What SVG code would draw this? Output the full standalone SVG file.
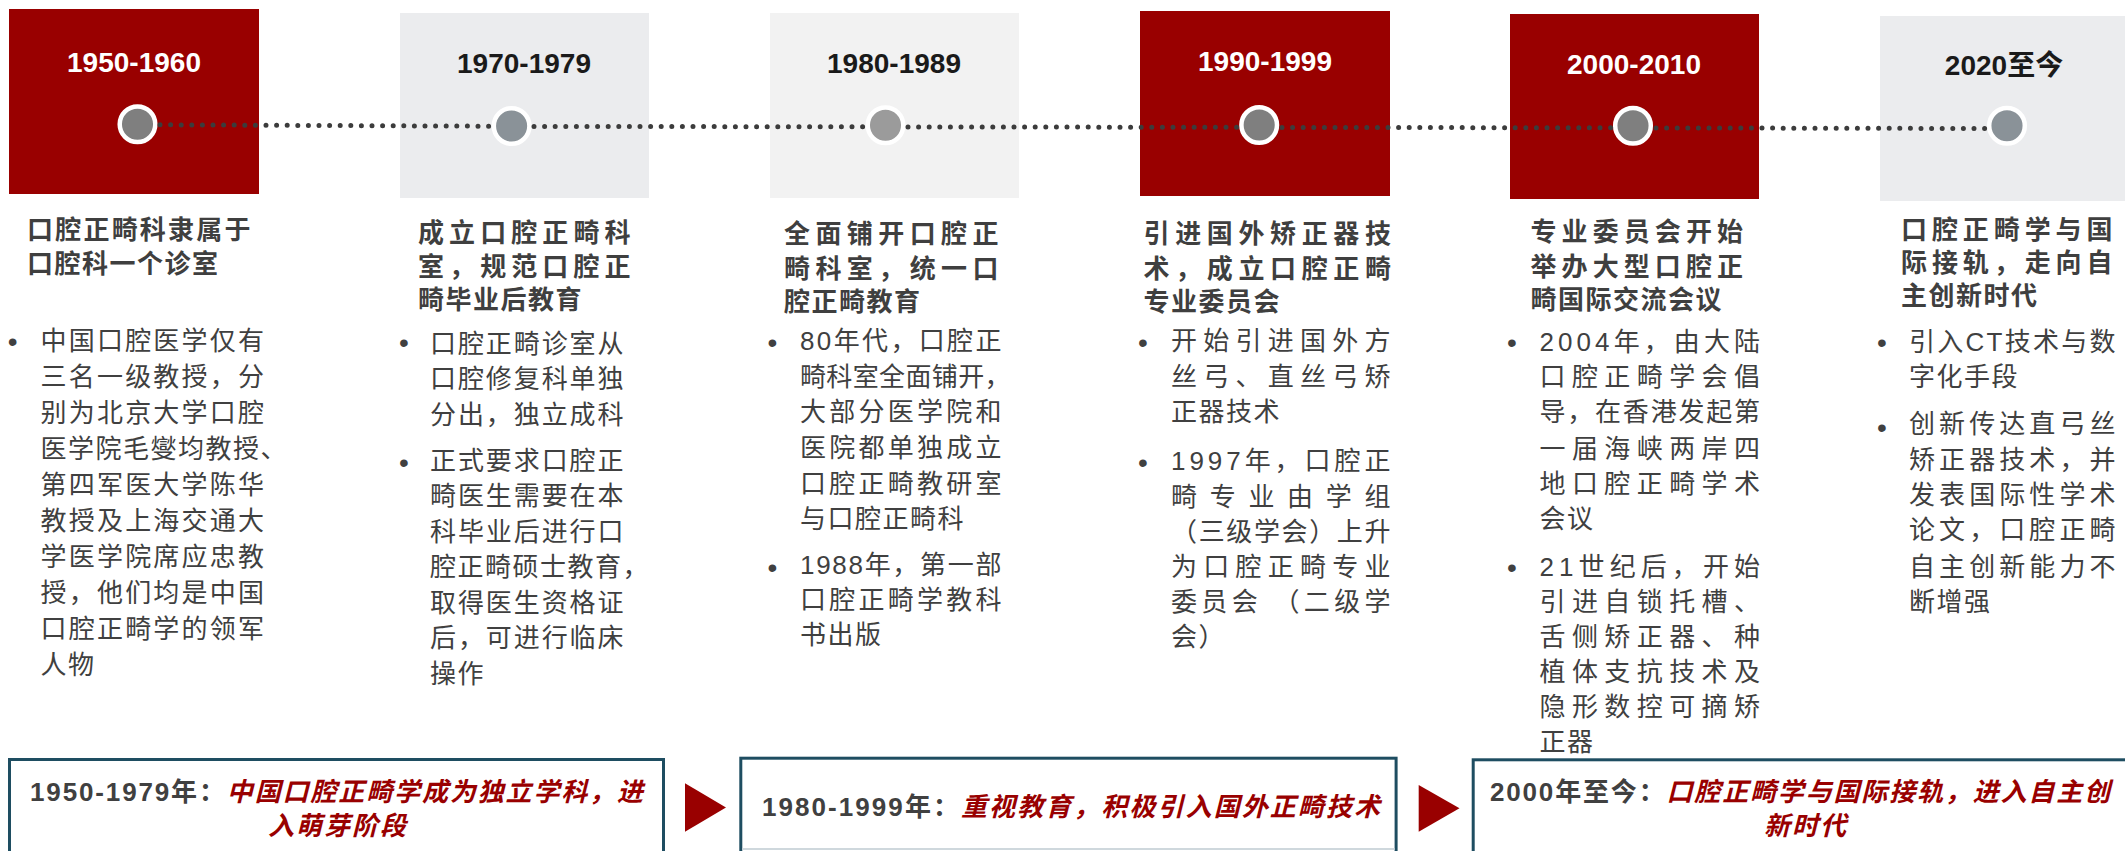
<svg xmlns="http://www.w3.org/2000/svg" width="2125" height="851" viewBox="0 0 2125 851">
<style>
text{font-family:"Liberation Sans","Noto Sans CJK SC",sans-serif}
.yr{font-size:28px;font-weight:bold;text-anchor:middle}
.yw{fill:#ffffff}
.yk{fill:#1a1a1a}
.ti{font-size:26px;font-weight:bold;fill:#3f3f3f;letter-spacing:1.5px}
.bd{font-size:26px;fill:#404040;letter-spacing:1.5px}
.bu{font-size:28px;fill:#404040;text-anchor:middle}
.sm{font-size:26px;font-weight:bold;fill:#404040}
.em{fill:#990000;font-style:italic}
.red{fill:#990000}
.dot{stroke:#ffffff;stroke-width:4.5}
.sbox{fill:#ffffff;stroke:#1e4d61;stroke-width:3}
.dl{stroke:#3c3c3c;stroke-width:5;stroke-linecap:round;stroke-dasharray:0 10.6;fill:none}
</style>
<rect width="2125" height="851" fill="#ffffff"/>

<g id="node-1950">
<rect x="9" y="9" width="250" height="185" class="red"/>
<text x="134" y="72" class="yr yw">1950-1960</text>
<circle cx="137.5" cy="124.3" r="17.8" fill="#7f7f7f" class="dot"/>
<text class="ti"><tspan x="27" y="238.5" textLength="225">口腔正畸科隶属于</tspan><tspan x="27" y="272.5">口腔科一个诊室</tspan></text>
<text x="12.7" y="350.5" class="bu">•</text>
<text class="bd">
<tspan x="40.5" y="349.5" textLength="225">中国口腔医学仅有</tspan>
<tspan x="40.5" y="385.6" textLength="225">三名一级教授，分</tspan>
<tspan x="40.5" y="421.7" textLength="225">别为北京大学口腔</tspan>
<tspan x="40.5" y="457.8">医学院毛燮均教授、</tspan>
<tspan x="40.5" y="493.9" textLength="225">第四军医大学陈华</tspan>
<tspan x="40.5" y="530" textLength="225">教授及上海交通大</tspan>
<tspan x="40.5" y="566.1" textLength="225">学医学院席应忠教</tspan>
<tspan x="40.5" y="602.2" textLength="225">授，他们均是中国</tspan>
<tspan x="40.5" y="638.3" textLength="225">口腔正畸学的领军</tspan>
<tspan x="40.5" y="674.4">人物</tspan>
</text>
</g>

<g id="node-1970">
<rect x="400" y="13" width="249" height="185" fill="#ebecee"/>
<text x="524" y="73" class="yr yk">1970-1979</text>
<circle cx="511.6" cy="126" r="17.8" fill="#8a9298" class="dot"/>
<text class="ti"><tspan x="418" y="241.5" textLength="214">成立口腔正畸科</tspan><tspan x="418" y="276" textLength="214">室，规范口腔正</tspan><tspan x="418" y="309">畸毕业后教育</tspan></text>
<text x="404" y="351.5" class="bu">•</text>
<text x="404" y="471.5" class="bu">•</text>
<text class="bd">
<tspan x="430" y="352.5" textLength="195">口腔正畸诊室从</tspan>
<tspan x="430" y="388" textLength="195">口腔修复科单独</tspan>
<tspan x="430" y="423.5" textLength="195">分出，独立成科</tspan>
<tspan x="430" y="469.5" textLength="195">正式要求口腔正</tspan>
<tspan x="430" y="505" textLength="195">畸医生需要在本</tspan>
<tspan x="430" y="540.5" textLength="195">科毕业后进行口</tspan>
<tspan x="430" y="576">腔正畸硕士教育，</tspan>
<tspan x="430" y="611.5" textLength="195">取得医生资格证</tspan>
<tspan x="430" y="647" textLength="195">后，可进行临床</tspan>
<tspan x="430" y="682.5">操作</tspan>
</text>
</g>

<g id="node-1980">
<rect x="770" y="13" width="249" height="185" fill="#f2f2f2"/>
<text x="894" y="73" class="yr yk">1980-1989</text>
<circle cx="885.5" cy="125.3" r="17.8" fill="#9b9b9b" class="dot"/>
<text class="ti"><tspan x="784" y="243" textLength="216">全面铺开口腔正</tspan><tspan x="784" y="277.5" textLength="216">畸科室，统一口</tspan><tspan x="784" y="311">腔正畸教育</tspan></text>
<text x="772.5" y="351.5" class="bu">•</text>
<text x="772.5" y="576.5" class="bu">•</text>
<text class="bd">
<tspan x="800" y="350" textLength="203">80年代，口腔正</tspan>
<tspan x="800" y="386" textLength="212">畸科室全面铺开，</tspan>
<tspan x="800" y="421" textLength="203">大部分医学院和</tspan>
<tspan x="800" y="457" textLength="203">医院都单独成立</tspan>
<tspan x="800" y="492.5" textLength="203">口腔正畸教研室</tspan>
<tspan x="800" y="528">与口腔正畸科</tspan>
<tspan x="800" y="574" textLength="203">1988年，第一部</tspan>
<tspan x="800" y="609" textLength="203">口腔正畸学教科</tspan>
<tspan x="800" y="644">书出版</tspan>
</text>
</g>

<g id="node-1990">
<rect x="1140" y="11" width="250" height="185" class="red"/>
<text x="1265" y="71" class="yr yw">1990-1999</text>
<circle cx="1259.2" cy="125" r="17.8" fill="#7f7f7f" class="dot"/>
<text class="ti"><tspan x="1143.5" y="243" textLength="249">引进国外矫正器技</tspan><tspan x="1143.5" y="277.5" textLength="249">术，成立口腔正畸</tspan><tspan x="1143.5" y="311">专业委员会</tspan></text>
<text x="1143" y="351.5" class="bu">•</text>
<text x="1143" y="471.5" class="bu">•</text>
<text class="bd">
<tspan x="1171" y="350" textLength="221">开始引进国外方</tspan>
<tspan x="1171" y="386" textLength="221">丝弓、直丝弓矫</tspan>
<tspan x="1171" y="421">正器技术</tspan>
<tspan x="1171" y="470" textLength="221">1997年，口腔正</tspan>
<tspan x="1171" y="506" textLength="221">畸专业由学组</tspan>
<tspan x="1171" y="541" textLength="221">（三级学会）上升</tspan>
<tspan x="1171" y="576" textLength="221">为口腔正畸专业</tspan>
<tspan x="1171" y="611" textLength="221">委员会 （二级学</tspan>
<tspan x="1171" y="646">会）</tspan>
</text>
</g>

<g id="node-2000">
<rect x="1510" y="14" width="249" height="185" class="red"/>
<text x="1634" y="74" class="yr yw">2000-2010</text>
<circle cx="1633" cy="125.7" r="17.8" fill="#7f7f7f" class="dot"/>
<text class="ti"><tspan x="1530.5" y="241" textLength="214">专业委员会开始</tspan><tspan x="1530.5" y="275.5" textLength="214">举办大型口腔正</tspan><tspan x="1530.5" y="308.5">畸国际交流会议</tspan></text>
<text x="1512" y="351.5" class="bu">•</text>
<text x="1512" y="576.5" class="bu">•</text>
<text class="bd">
<tspan x="1539.5" y="351" textLength="222">2004年，由大陆</tspan>
<tspan x="1539.5" y="386" textLength="222">口腔正畸学会倡</tspan>
<tspan x="1539.5" y="421" textLength="222">导，在香港发起第</tspan>
<tspan x="1539.5" y="457.5" textLength="222">一届海峡两岸四</tspan>
<tspan x="1539.5" y="492.5" textLength="222">地口腔正畸学术</tspan>
<tspan x="1539.5" y="527.5">会议</tspan>
<tspan x="1539.5" y="576" textLength="222">21世纪后，开始</tspan>
<tspan x="1539.5" y="611" textLength="222">引进自锁托槽、</tspan>
<tspan x="1539.5" y="646" textLength="222">舌侧矫正器、种</tspan>
<tspan x="1539.5" y="681" textLength="222">植体支抗技术及</tspan>
<tspan x="1539.5" y="716" textLength="222">隐形数控可摘矫</tspan>
<tspan x="1539.5" y="751">正器</tspan>
</text>
</g>

<g id="node-2020">
<rect x="1880" y="16" width="250" height="185" fill="#ebecee"/>
<text x="2004" y="75" class="yr yk">2020至今</text>
<circle cx="2007" cy="125.7" r="17.8" fill="#8a9298" class="dot"/>
<text class="ti"><tspan x="1901" y="238.5" textLength="213">口腔正畸学与国</tspan><tspan x="1901" y="271.5" textLength="213">际接轨，走向自</tspan><tspan x="1901" y="305">主创新时代</tspan></text>
<text x="1882" y="351.5" class="bu">•</text>
<text x="1882" y="436.5" class="bu">•</text>
<text class="bd">
<tspan x="1909" y="351" textLength="208">引入CT技术与数</tspan>
<tspan x="1909" y="386">字化手段</tspan>
<tspan x="1909" y="432.5" textLength="208">创新传达直弓丝</tspan>
<tspan x="1909" y="469" textLength="208">矫正器技术，并</tspan>
<tspan x="1909" y="504" textLength="208">发表国际性学术</tspan>
<tspan x="1909" y="539" textLength="208">论文，口腔正畸</tspan>
<tspan x="1909" y="576" textLength="208">自主创新能力不</tspan>
<tspan x="1909" y="611">断增强</tspan>
</text>
</g>

<g id="stage-1">
<rect x="9.5" y="759.5" width="654" height="110" class="sbox"/>
<text class="sm" x="30" y="801" textLength="613">1950-1979年：<tspan class="em">中国口腔正畸学成为独立学科，进</tspan></text>
<text class="sm em" x="338" y="835" text-anchor="middle" style="letter-spacing:2px">入萌芽阶段</text>
</g>

<g id="stage-2">
<rect x="740.8" y="758.2" width="655.3" height="110" class="sbox"/>
<line x1="742.5" y1="849" x2="1394.5" y2="849" stroke="#cfd8dd" stroke-width="2"/>
<text class="sm" x="762" y="816" textLength="618">1980-1999年：<tspan class="em">重视教育，积极引入国外正畸技术</tspan></text>
</g>

<g id="stage-3">
<rect x="1473.2" y="759.8" width="700" height="110" class="sbox"/>
<text class="sm" x="1490" y="801" textLength="620">2000年至今：<tspan class="em">口腔正畸学与国际接轨，进入自主创</tspan></text>
<text class="sm em" x="1806" y="835" text-anchor="middle" style="letter-spacing:2px">新时代</text>
</g>

<g id="connectors">
<line x1="160" y1="124.8" x2="489" y2="126.2" class="dl"/>
<line x1="534" y1="126.4" x2="863" y2="126.8" class="dl"/>
<line x1="908" y1="126.9" x2="1237" y2="127.3" class="dl"/>
<line x1="1282" y1="127.4" x2="1611" y2="127.8" class="dl"/>
<line x1="1656" y1="127.9" x2="1985" y2="128.5" class="dl"/>
<polygon points="685,783.3 726,807.5 685,831.7" class="red"/>
<polygon points="1418.7,785 1459.5,808.3 1418.7,831.7" class="red"/>
</g>
</svg>
